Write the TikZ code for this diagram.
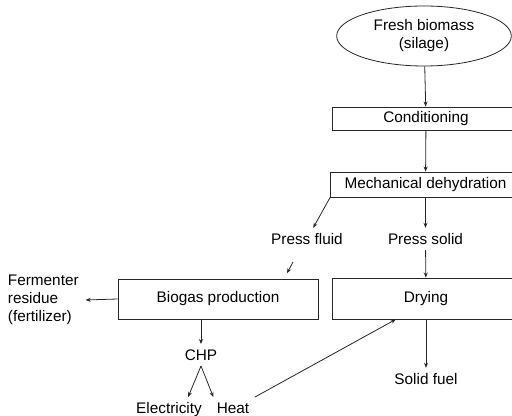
\documentclass[tikz,border=0pt]{standalone}
\usepackage{fontspec}
\setmainfont{Liberation Sans}
\usetikzlibrary{shapes.geometric,arrows.meta,calc}

\begin{document}
\begin{tikzpicture}[
    x=0.75pt, y=-0.75pt,
    >={Stealth[length=3.8pt,width=3pt]},
    every node/.style={font=\fontsize{11.5}{13.5}\selectfont},
    box/.style={draw=black!85, line width=0.6pt, align=center, inner sep=1pt},
    procbox/.style={box, minimum width=141pt},
    inbox/.style={box, ellipse, minimum width=131pt, minimum height=45pt, inner sep=0pt},
    lbl/.style={inner sep=4pt, text depth=0pt},
    arrow/.style={->, line width=0.6pt, black!85},
]
\clip (0,0) rectangle (512,416);

% Main line
\node[inbox] (fresh) at (424,36) {Fresh biomass\\(silage)};
\node[procbox, minimum height=17.25pt] (cond) at (426,118.5) {Conditioning};
\node[procbox, minimum height=18.75pt, minimum width=142.5pt] (mech) at (425.5,184.5) {Mechanical dehydration};
\node[lbl] (psolid) at (425.5,239) {Press solid};
\node[lbl] (pfluid) at (307,239) {Press fluid};
\node[procbox, minimum height=30.75pt] (dry) at (426,298.5) {Drying};
\node[lbl] (sfuel) at (426,379) {Solid fuel};

% Biogas branch
\node[box, minimum width=150pt, minimum height=30pt] (biogas) at (218,299) {Biogas production};
\node[anchor=west, align=left, inner sep=5pt] (ferm) at (1,300) {Fermenter\\residue\\(fertilizer)};
\node[lbl] (chp) at (201,355) {CHP};
\node[lbl] (elec) at (169,408) {Electricity};
\node[lbl] (heat) at (233,408) {Heat};

\coordinate (fl1) at ($(pfluid.south)+(-14,12)$);
\coordinate (fl2) at ($(fl1)+(-6,11)$);

% Arrows
\draw[arrow] (fresh) -- (cond);
\draw[arrow] (cond) -- (mech);
\draw[arrow] (mech) -- (psolid);
\draw[arrow] (mech.south west) -- ($(pfluid.north)!0.15!(pfluid.north east)$);
\draw[arrow] (psolid) -- (dry);
\draw[arrow] (fl1) -- (fl2);
\draw[arrow] (biogas.west) -- (ferm.east);
\draw[arrow] (chp |- biogas.south) -- (chp.north);
\draw[arrow] (chp.south) -- ($(elec.north)!0.5!(elec.north east)$);
\draw[arrow] (chp.south) -- ($(heat.north west)!0.1!(heat.north)$);
\draw[arrow] (dry) -- (sfuel);

% Heat to drying
\draw[arrow] (heat.north east) -- ($(dry.south west)!0.34!(dry.south east)$);

\end{tikzpicture}
\end{document}
